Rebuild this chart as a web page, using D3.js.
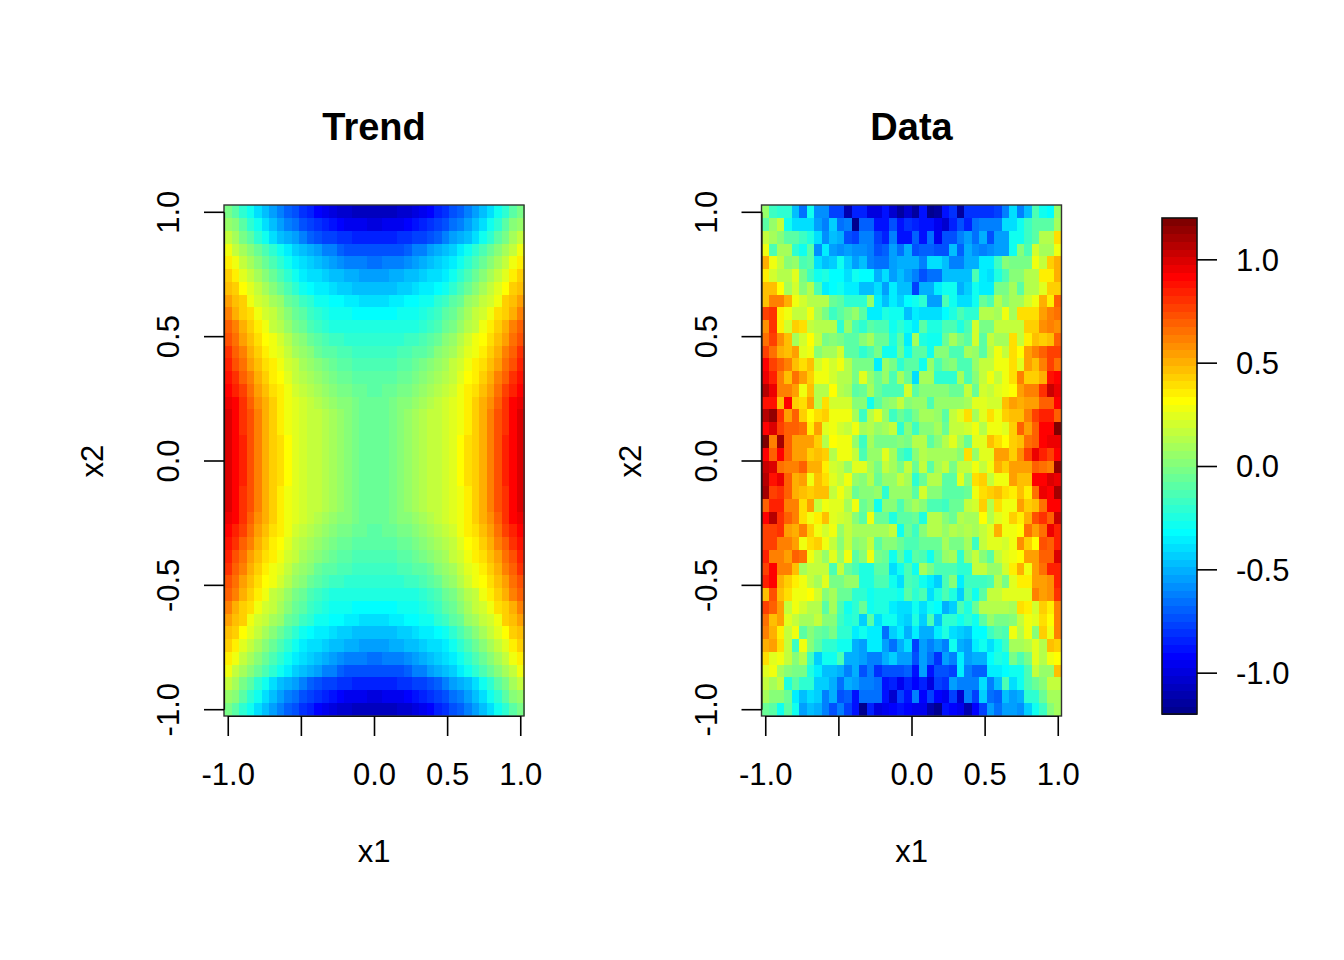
<!DOCTYPE html>
<html><head><meta charset="utf-8">
<script src="https://cdnjs.cloudflare.com/ajax/libs/d3/7.8.5/d3.min.js"></script>
<style>html,body{margin:0;background:#fff}svg{display:block}text{font-family:"Liberation Sans",Arial,sans-serif;fill:#000}</style>
</head><body><svg id="c" width="1344" height="960"></svg>
<script>
// values are in hundredths; each row runs x1 = -1 .. 1, rows run x2 = 1 .. -1
const trendRows = [
[-3,-10,-22,-30,-40,-46,-55,-62,-70,-75,-82,-86,-92,-96,-100,-102,-104,-106,-107,-108,-108,-107,-106,-104,-102,-100,-96,-92,-86,-82,-75,-70,-62,-55,-46,-40,-30,-22,-10,-3],
[5,0,-8,-22,-30,-38,-46,-55,-60,-66,-72,-76,-82,-86,-90,-92,-94,-96,-97,-98,-98,-97,-96,-94,-92,-90,-86,-82,-76,-72,-66,-60,-55,-46,-38,-30,-22,-8,0,5],
[15,8,-3,-10,-22,-30,-38,-45,-52,-56,-62,-68,-72,-76,-78,-80,-82,-84,-85,-86,-86,-85,-84,-82,-80,-78,-76,-72,-68,-62,-56,-52,-45,-38,-30,-22,-10,-3,8,15],
[30,18,8,0,-7,-14,-22,-30,-35,-42,-47,-52,-55,-60,-63,-68,-72,-73,-74,-75,-75,-74,-73,-72,-68,-63,-60,-55,-52,-47,-42,-35,-30,-22,-14,-7,0,8,18,30],
[36,27,18,10,0,-6,-14,-22,-30,-36,-40,-44,-48,-50,-55,-58,-60,-62,-63,-64,-64,-63,-62,-60,-58,-55,-50,-48,-44,-40,-36,-30,-22,-14,-6,0,10,18,27,36],
[42,35,26,17,10,0,-6,-14,-22,-30,-35,-38,-40,-44,-46,-48,-50,-52,-54,-55,-55,-54,-52,-50,-48,-46,-44,-40,-38,-35,-30,-22,-14,-6,0,10,17,26,35,42],
[47,42,32,25,17,10,2,-6,-14,-22,-28,-32,-34,-36,-40,-42,-44,-45,-46,-47,-47,-46,-45,-44,-42,-40,-36,-34,-32,-28,-22,-14,-6,2,10,17,25,32,42,47],
[54,47,42,30,22,16,10,4,-4,-10,-18,-22,-28,-30,-32,-33,-35,-37,-38,-40,-40,-38,-37,-35,-33,-32,-30,-28,-22,-18,-10,-4,4,10,16,22,30,42,47,54],
[60,52,44,40,30,22,15,10,2,-6,-10,-16,-22,-26,-28,-29,-30,-31,-32,-33,-33,-32,-31,-30,-29,-28,-26,-22,-16,-10,-6,2,10,15,22,30,40,44,52,60],
[70,60,52,42,36,30,18,12,4,-3,-7,-12,-17,-21,-23,-24,-25,-26,-26,-26,-26,-26,-26,-25,-24,-23,-21,-17,-12,-7,-3,4,12,18,30,36,42,52,60,70],
[74,64,56,47,40,33,28,20,14,6,0,-5,-10,-14,-17,-18,-19,-20,-20,-21,-21,-20,-20,-19,-18,-17,-14,-10,-5,0,6,14,20,28,33,40,47,56,64,74],
[80,68,60,50,44,36,30,24,17,10,4,0,-4,-8,-11,-13,-14,-15,-16,-16,-16,-16,-15,-14,-13,-11,-8,-4,0,4,10,17,24,30,36,44,50,60,68,80],
[84,74,66,56,47,40,34,28,22,15,8,4,0,-3,-6,-9,-11,-12,-13,-14,-14,-13,-12,-11,-9,-6,-3,0,4,8,15,22,28,34,40,47,56,66,74,84],
[88,80,70,60,50,44,37,32,25,18,12,8,4,1,-2,-5,-7,-9,-10,-11,-11,-10,-9,-7,-5,-2,1,4,8,12,18,25,32,37,44,50,60,70,80,88],
[92,86,76,66,56,48,40,34,28,22,16,12,8,5,2,-1,-3,-5,-7,-8,-8,-7,-5,-3,-1,2,5,8,12,16,22,28,34,40,48,56,66,76,86,92],
[96,90,80,70,59,50,42,36,30,24,20,16,12,9,6,3,0,-3,-5,-7,-7,-5,-3,0,3,6,9,12,16,20,24,30,36,42,50,59,70,80,90,96],
[98,91,82,72,60,52,43,37,30,26,21,18,15,12,8,4,2,-2,-5,-6,-6,-5,-2,2,4,8,12,15,18,21,26,30,37,43,52,60,72,82,91,98],
[98,91,82,72,60,52,43,37,30,26,21,18,15,12,8,4,2,-2,-5,-6,-6,-5,-2,2,4,8,12,15,18,21,26,30,37,43,52,60,72,82,91,98],
[99,91,83,72,61,52,44,38,31,26,21,18,15,12,8,4,2,-2,-5,-6,-6,-5,-2,2,4,8,12,15,18,21,26,31,38,44,52,61,72,83,91,99],
[99,92,83,73,61,52,44,38,31,26,21,18,15,12,8,4,2,-2,-5,-6,-6,-5,-2,2,4,8,12,15,18,21,26,31,38,44,52,61,73,83,92,99],
[99,92,83,73,61,52,44,38,31,26,21,18,15,12,8,4,2,-2,-5,-6,-6,-5,-2,2,4,8,12,15,18,21,26,31,38,44,52,61,73,83,92,99],
[99,91,83,72,61,52,44,38,31,26,21,18,15,12,8,4,2,-2,-5,-6,-6,-5,-2,2,4,8,12,15,18,21,26,31,38,44,52,61,72,83,91,99],
[98,91,82,72,60,52,43,37,30,26,21,18,15,12,8,4,2,-2,-5,-6,-6,-5,-2,2,4,8,12,15,18,21,26,30,37,43,52,60,72,82,91,98],
[98,91,82,72,60,52,43,37,30,26,21,18,15,12,8,4,2,-2,-5,-6,-6,-5,-2,2,4,8,12,15,18,21,26,30,37,43,52,60,72,82,91,98],
[96,90,80,70,59,50,42,36,30,24,20,16,12,9,6,3,0,-3,-5,-7,-7,-5,-3,0,3,6,9,12,16,20,24,30,36,42,50,59,70,80,90,96],
[92,86,76,66,56,48,40,34,28,22,16,12,8,5,2,-1,-3,-5,-7,-8,-8,-7,-5,-3,-1,2,5,8,12,16,22,28,34,40,48,56,66,76,86,92],
[88,80,70,60,50,44,37,32,25,18,12,8,4,1,-2,-5,-7,-9,-10,-11,-11,-10,-9,-7,-5,-2,1,4,8,12,18,25,32,37,44,50,60,70,80,88],
[84,74,66,56,47,40,34,28,22,15,8,4,0,-3,-6,-9,-11,-12,-13,-14,-14,-13,-12,-11,-9,-6,-3,0,4,8,15,22,28,34,40,47,56,66,74,84],
[80,68,60,50,44,36,30,24,17,10,4,0,-4,-8,-11,-13,-14,-15,-16,-16,-16,-16,-15,-14,-13,-11,-8,-4,0,4,10,17,24,30,36,44,50,60,68,80],
[74,64,56,47,40,33,28,20,14,6,0,-5,-10,-14,-17,-18,-19,-20,-20,-21,-21,-20,-20,-19,-18,-17,-14,-10,-5,0,6,14,20,28,33,40,47,56,64,74],
[70,60,52,42,36,30,18,12,4,-3,-7,-12,-17,-21,-23,-24,-25,-26,-26,-26,-26,-26,-26,-25,-24,-23,-21,-17,-12,-7,-3,4,12,18,30,36,42,52,60,70],
[60,52,44,40,30,22,15,10,2,-6,-10,-16,-22,-26,-28,-29,-30,-31,-32,-33,-33,-32,-31,-30,-29,-28,-26,-22,-16,-10,-6,2,10,15,22,30,40,44,52,60],
[54,47,42,30,22,16,10,4,-4,-10,-18,-22,-28,-30,-32,-33,-35,-37,-38,-40,-40,-38,-37,-35,-33,-32,-30,-28,-22,-18,-10,-4,4,10,16,22,30,42,47,54],
[47,42,32,25,17,10,2,-6,-14,-22,-28,-32,-34,-36,-40,-42,-44,-45,-46,-47,-47,-46,-45,-44,-42,-40,-36,-34,-32,-28,-22,-14,-6,2,10,17,25,32,42,47],
[42,35,26,17,10,0,-6,-14,-22,-30,-35,-38,-40,-44,-46,-48,-50,-52,-54,-55,-55,-54,-52,-50,-48,-46,-44,-40,-38,-35,-30,-22,-14,-6,0,10,17,26,35,42],
[36,27,18,10,0,-6,-14,-22,-30,-36,-40,-44,-48,-50,-55,-58,-60,-62,-63,-64,-64,-63,-62,-60,-58,-55,-50,-48,-44,-40,-36,-30,-22,-14,-6,0,10,18,27,36],
[30,18,8,0,-7,-14,-22,-30,-35,-42,-47,-52,-55,-60,-63,-68,-72,-73,-74,-75,-75,-74,-73,-72,-68,-63,-60,-55,-52,-47,-42,-35,-30,-22,-14,-7,0,8,18,30],
[15,8,-3,-10,-22,-30,-38,-45,-52,-56,-62,-68,-72,-76,-78,-80,-82,-84,-85,-86,-86,-85,-84,-82,-80,-78,-76,-72,-68,-62,-56,-52,-45,-38,-30,-22,-10,-3,8,15],
[5,0,-8,-22,-30,-38,-46,-55,-60,-66,-72,-76,-82,-86,-90,-92,-94,-96,-97,-98,-98,-97,-96,-94,-92,-90,-86,-82,-76,-72,-66,-60,-55,-46,-38,-30,-22,-8,0,5],
[-3,-10,-22,-30,-40,-46,-55,-62,-70,-75,-82,-86,-92,-96,-100,-102,-104,-106,-107,-108,-108,-107,-106,-104,-102,-100,-96,-92,-86,-82,-75,-70,-62,-55,-46,-40,-30,-22,-10,-3]
];
const dataRows = [
[5,-15,-22,-22,-45,-65,-30,-58,-58,-78,-78,-112,-85,-85,-100,-100,-88,-102,-115,-102,-115,-90,-125,-115,-90,-82,-115,-82,-82,-80,-80,-78,-60,-38,-60,-48,-12,-30,-33,5],
[-10,5,15,-30,-40,-38,-40,-55,-60,-42,-65,-63,-118,-70,-70,-90,-90,-72,-90,-82,-85,-90,-90,-95,-105,-85,-75,-85,-65,-62,-62,-60,-40,-40,-28,-18,-8,-8,-8,8],
[15,8,0,-8,-8,-18,-25,-40,-58,-47,-52,-72,-76,-60,-60,-76,-84,-60,-90,-90,-70,-90,-65,-95,-72,-75,-62,-55,-65,-52,-75,-55,-55,-30,-27,-18,-8,13,13,40],
[30,-14,8,8,-22,-30,-8,-58,-35,-55,-58,-55,-58,-58,-62,-75,-68,-55,-65,-52,-75,-68,-68,-75,-75,-46,-70,-52,-58,-62,-58,-55,-55,-30,0,-14,20,8,8,27],
[50,30,16,0,6,-14,-10,-40,-47,-42,-30,-42,-55,-46,-62,-64,-64,-55,-50,-50,-50,-60,-38,-38,-46,-60,-60,-50,-50,-36,-36,-18,0,-3,-2,-1,30,18,44,52],
[35,22,12,12,25,-3,-16,-30,-24,-32,-32,-40,-30,-33,-33,-50,-40,-55,-45,-55,-60,-72,-65,-65,-46,-46,-48,-46,-14,-36,-40,-25,-14,3,3,12,12,34,36,52],
[48,48,32,8,22,0,14,-14,-34,-32,-30,-36,-36,-46,-46,-40,-55,-37,-46,-46,-76,-52,-52,-36,-30,-30,-52,-44,-30,-36,-37,-3,-3,8,-8,13,13,25,44,44],
[45,60,63,52,27,20,12,12,12,-6,-8,-22,-22,-20,4,-37,-46,-35,-44,-32,-30,-22,-55,-55,-14,-30,-40,-40,-30,-6,-14,12,2,10,10,22,27,52,36,70],
[75,82,35,28,18,18,30,8,-3,-18,-10,-3,4,-10,-35,-35,-26,-28,-30,-46,-36,-40,-40,-40,-33,-26,-14,-22,-22,12,12,10,27,8,38,38,38,56,60,67],
[57,82,35,22,43,38,16,12,14,14,-22,4,-14,-22,-8,-14,-14,-30,-22,-30,-36,-10,-26,-26,-14,-14,-24,-14,20,-3,-3,15,16,16,16,44,44,58,60,57],
[67,75,57,47,8,22,32,15,-1,0,-1,-8,-8,0,8,-6,-6,-26,-8,-34,8,-26,-28,-28,-4,10,-2,-8,22,-8,18,8,8,38,15,36,46,42,46,70],
[78,64,52,47,56,25,27,0,10,10,20,-10,-10,-22,-14,-1,-30,-30,-4,-28,-10,-10,-30,0,0,-14,-14,8,4,-10,12,30,15,38,32,54,60,70,75,75],
[92,75,70,60,47,38,46,22,28,20,29,12,-3,-3,-3,-35,4,-2,-22,-8,-8,-30,4,-14,-3,0,-14,-14,6,15,15,27,30,38,26,56,46,60,78,66],
[95,84,60,47,66,54,44,30,30,20,14,14,-3,26,4,-6,4,-14,8,-6,-40,8,8,-22,-22,-22,8,-14,0,15,30,15,30,38,60,44,44,52,88,90],
[105,96,63,63,54,30,46,14,14,32,12,10,-8,-6,8,-6,-14,-14,-12,20,-10,3,3,3,3,-6,-6,16,-6,20,15,25,27,33,54,60,60,82,102,95],
[88,88,46,90,42,38,56,12,38,20,22,22,0,0,-30,-8,3,4,17,2,6,6,-12,5,5,5,4,10,26,26,20,20,46,54,50,54,56,70,70,90],
[108,115,82,56,68,44,32,38,44,30,30,27,8,-18,12,25,4,-18,-6,-14,-3,10,10,4,-10,16,26,38,10,25,40,30,44,47,47,63,78,85,85,70],
[90,98,78,70,70,66,36,53,25,30,20,16,30,8,12,4,8,17,-20,0,-18,3,3,10,-6,17,17,22,27,12,30,30,25,44,70,56,70,90,90,125],
[125,63,112,68,56,56,56,44,14,33,30,27,5,-18,8,-3,-3,-3,2,-2,12,12,-10,0,12,26,8,-4,24,24,46,38,32,43,47,66,70,90,96,96],
[90,70,90,70,56,54,44,46,42,12,30,29,18,-14,6,4,26,8,-14,-20,0,12,8,8,8,8,0,38,4,26,26,54,54,42,58,75,96,86,75,90],
[102,100,66,63,62,69,52,52,36,20,17,6,25,25,8,-3,15,8,-3,15,-4,15,-8,8,18,-3,15,15,29,15,30,50,42,56,56,56,70,66,60,115],
[108,87,97,69,52,56,30,47,39,26,17,30,4,2,12,-4,6,4,15,10,-20,-4,12,12,-10,-10,25,2,38,42,15,28,28,54,45,45,90,90,100,94],
[112,75,82,68,52,47,42,47,47,18,30,15,-6,3,3,4,-22,4,4,6,-8,20,0,0,-10,-10,-10,-4,30,40,44,48,38,36,46,37,67,97,90,112],
[69,86,86,60,60,40,54,17,30,25,25,8,30,-6,3,-30,2,0,-14,3,8,2,-12,-12,-18,-6,-4,17,20,44,12,40,30,30,56,44,46,66,90,90],
[90,105,82,69,60,40,30,35,47,25,20,17,2,-8,30,-4,-4,-26,-8,-8,-4,-25,14,14,3,-6,12,8,8,33,12,26,30,44,34,52,74,82,70,102],
[75,78,82,56,52,60,42,30,20,29,5,17,8,10,10,10,8,17,-30,-4,-18,0,12,12,4,12,8,14,8,18,26,50,30,30,32,66,56,66,96,86],
[78,78,60,60,54,30,38,44,30,15,3,17,3,7,17,-8,3,3,-6,-14,-14,-6,-6,-6,8,-2,-2,8,-18,17,24,24,20,29,58,44,33,74,70,86],
[84,60,60,54,68,64,30,15,4,24,4,30,-8,3,30,-2,-4,-30,-8,-30,-10,-14,-28,-10,4,10,-20,4,16,2,-10,15,24,28,32,54,54,70,70,98],
[75,90,60,63,46,8,15,17,18,-14,15,-4,-14,-26,-26,-10,-10,-40,-30,-14,-30,8,-2,-14,-14,-14,-20,-20,17,17,4,4,22,34,50,30,54,66,86,86],
[86,90,52,42,36,27,15,10,26,-2,-2,4,4,-24,-24,-14,-14,-30,-40,-14,-16,-30,-34,-42,-14,3,-34,-18,-18,-18,-14,12,-2,26,36,36,56,56,58,84],
[46,72,47,40,30,30,32,20,0,10,-6,-6,-22,-22,-30,-24,-24,-24,-30,-10,-22,-14,-40,-26,-14,-26,-42,-14,-30,-10,16,16,26,26,26,26,60,54,58,80],
[78,70,56,17,29,22,12,12,-8,8,-14,-30,-22,-6,-30,-24,-24,-34,-40,-40,-30,-40,-30,-32,-52,-42,-14,-26,-6,12,12,12,12,10,40,36,20,44,36,60],
[66,47,53,26,18,8,8,15,0,0,-18,-24,-22,-44,-10,-38,-30,-30,-40,-44,-26,-44,-14,-46,-20,-20,-30,-22,-30,-10,4,-3,-3,0,15,30,25,40,33,62],
[62,52,36,17,29,-10,3,-6,-10,-2,-22,-22,-34,-30,-34,-34,-66,-42,-36,-50,-34,-50,-50,-34,-26,-40,-42,-47,-32,-32,-18,-8,-14,30,12,28,3,42,30,62],
[52,56,41,17,-18,28,3,-8,-22,-22,-30,-30,-50,-54,-34,-34,-55,-66,-52,-40,-78,-55,-60,-56,-60,-30,-50,-54,-36,-30,-40,-30,-18,8,8,14,26,14,46,44],
[39,25,27,16,0,14,-18,-42,-30,-30,-14,-50,-50,-56,-60,-60,-52,-42,-54,-55,-75,-54,-66,-82,-55,-60,-36,-54,-50,-50,-32,-25,-30,-2,-14,-3,26,12,30,33],
[25,30,8,2,-3,-3,-26,-34,-46,-46,-50,-62,-50,-75,-60,-82,-72,-72,-75,-68,-90,-55,-88,-75,-74,-78,-36,-60,-68,-68,-36,-36,-32,-30,-30,-14,15,4,4,46],
[15,10,15,-24,-8,-20,-20,-44,-44,-50,-66,-52,-55,-62,-60,-66,-90,-86,-96,-84,-92,-86,-98,-76,-82,-55,-60,-60,-60,-40,-60,-47,-14,-40,-28,-14,-6,0,17,18],
[10,3,3,-6,-34,-46,-40,-43,-60,-52,-75,-68,-90,-66,-66,-66,-90,-102,-78,-90,-60,-92,-76,-92,-96,-78,-105,-60,-76,-44,-66,-68,-46,-54,-50,-22,-22,-4,8,8],
[-6,-10,-30,-10,-30,-55,-48,-52,-60,-75,-62,-76,-90,-120,-84,-98,-95,-92,-90,-92,-94,-94,-110,-125,-90,-92,-94,-110,-92,-76,-56,-66,-54,-55,-58,-42,-30,-18,2,8]
];
const panelTitles = ["Trend", "Data"];
const axisTicks = [-1, -0.5, 0, 0.5, 1];
const barTicks = [-1, -0.5, 0, 0.5, 1];
const zRange = [-1.2, 1.2];
const nColors = 64;
const colorStops = ["#00008f", "#0000ff", "#00ffff", "#ffff00", "#ff0000", "#800000"];
const colorStopIdx = [0, 7, 23, 40, 56, 63];

const svg = d3.select("#c");
const colorOf = d3.scaleLinear().domain(colorStopIdx).range(colorStops).interpolate(d3.interpolateRgb).clamp(true);
const bin = d3.scaleQuantize().domain(zRange).range(d3.range(nColors));
const fmt = v => (v === -0.5 ? "" : d3.format(".1f")(v).replace("\u2212", "-"));
const fmtAll = v => d3.format(".1f")(v).replace("\u2212", "-");

function panel(rows, title, x0) {
  const n = rows.length, step = 2 / (n - 1);
  const x = d3.scaleLinear().domain([-1, 1]).range([x0 + 3.75, x0 + 296.25]);
  const y = d3.scaleLinear().domain([-1, 1]).range([709.2, 211.8]);
  const xs = d3.range(n).map(i => -1 + i * step);
  const ys = d3.range(n).map(i => 1 - i * step);
  const g = svg.append("g");
  const cells = rows.flatMap((r, j) => r.map((v, i) => ({ x: xs[i], y: ys[j], v: v / 100 })));
  g.append("g").attr("shape-rendering", "crispEdges").selectAll("rect").data(cells).join("rect")
    .attr("x", d => x(d.x - step / 2)).attr("y", d => y(d.y + step / 2))
    .attr("width", x(step) - x(0) + 0.5).attr("height", y(0) - y(step) + 0.5)
    .attr("fill", d => colorOf(bin(d.v)));
  g.append("rect").attr("x", x0).attr("y", 205).attr("width", 300).attr("height", 511)
    .attr("fill", "none").attr("stroke", "#333").attr("stroke-width", 1.4);

  const ax = g.append("g").attr("transform", "translate(0,716)")
    .call(d3.axisBottom(x).tickValues(axisTicks).tickFormat(fmt).tickSize(20).tickSizeOuter(0).tickPadding(27));
  const ay = g.append("g").attr("transform", `translate(${x0},0)`)
    .call(d3.axisLeft(y).tickValues(axisTicks).tickFormat(fmtAll).tickSize(20).tickSizeOuter(0));
  [ax, ay].forEach(a => {
    a.selectAll("line").attr("stroke", "#000").attr("stroke-width", 1.6);
    a.select(".domain").attr("stroke", "#111").attr("stroke-width", 1.2);
    a.selectAll("text").style("font-size", "31px").attr("fill", "#000");
    a.attr("font-family", null).attr("font-size", null);
  });
  ay.selectAll("text").attr("x", 0).attr("y", 0).attr("dy", 0).attr("text-anchor", "middle")
    .attr("transform", "translate(-45,0) rotate(-90)");

  g.append("text").attr("x", x0 + 150).attr("y", 140).attr("text-anchor", "middle")
    .style("font-size", "38px").style("font-weight", "bold").text(title);
  g.append("text").attr("x", x0 + 150).attr("y", 862).attr("text-anchor", "middle")
    .style("font-size", "31px").text("x1");
  g.append("text").attr("transform", `translate(${x0 - 121},461) rotate(-90)`).attr("text-anchor", "middle")
    .style("font-size", "31px").text("x2");
}
panel(trendRows, panelTitles[0], 224);
panel(dataRows, panelTitles[1], 761.5);

// colour bar
const bar = svg.append("g");
const barY = d3.scaleLinear().domain(zRange).range([714, 218]);
const bw = (zRange[1] - zRange[0]) / nColors;
bar.append("g").attr("shape-rendering", "crispEdges").selectAll("rect").data(d3.range(nColors)).join("rect")
  .attr("x", 1162).attr("width", 35)
  .attr("y", i => barY(zRange[0] + (i + 1) * bw))
  .attr("height", barY(0) - barY(bw) + 0.5)
  .attr("fill", i => colorOf(i));
bar.append("rect").attr("x", 1162).attr("y", 218).attr("width", 35).attr("height", 496)
  .attr("fill", "none").attr("stroke", "#111").attr("stroke-width", 1.6);
const ab = bar.append("g").attr("transform", "translate(1197,0)")
  .call(d3.axisRight(barY).tickValues(barTicks).tickFormat(fmtAll).tickSize(20).tickSizeOuter(0).tickPadding(19));
ab.select(".domain").remove();
ab.selectAll("line").attr("stroke", "#000").attr("stroke-width", 1.6);
ab.selectAll("text").style("font-size", "31px").attr("fill", "#000").attr("dy", "0.35em");
ab.attr("font-family", null).attr("font-size", null);
</script></body></html>
